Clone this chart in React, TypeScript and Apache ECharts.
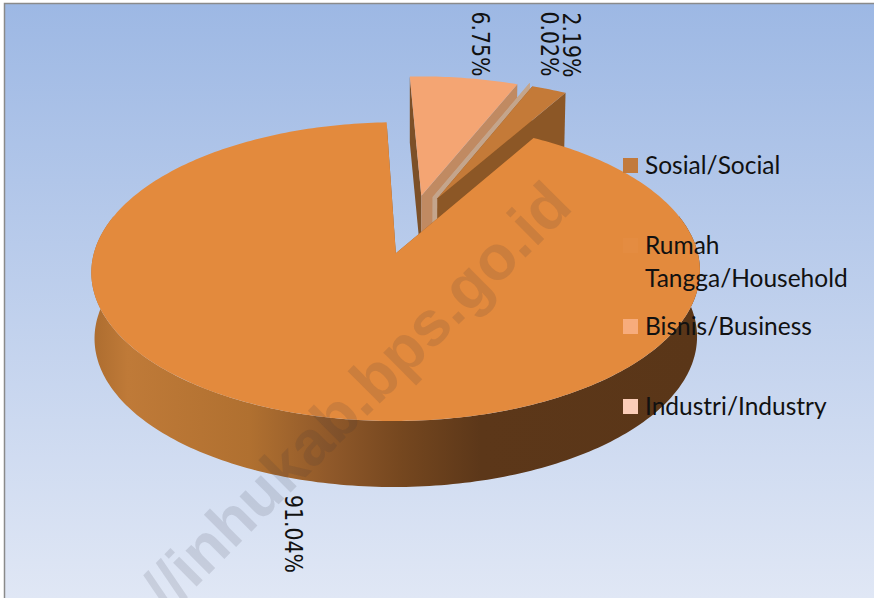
import React, { useEffect, useRef } from "react";
import * as echarts from "echarts";

const categories = ["Sosial/Social", "Rumah\nTangga/Household", "Bisnis/Business", "Industri/Industry"];
const shares = [2.19, 91.04, 6.75, 0.02];
const topColors = ["#C47A38", "#E38A3D", "#F4A573", "#F8CBB0"];
const legendColors = ["#C27A3C", "#E48C41", "#F7AC7C", "#FBCDB8"];
const startWallColors = ["#8F5A28", "#8F5A28", "#7C5028", "#C4A58C"];
const endWallColors = ["#8C5726", "#8F5A28", "#C08A62", "#C4A58C"];
const drawOrder = [2, 3, 0, 1];
const labelAnchors = [[572, 45], [294, 534], [481, 44], [550, 44]];
const legendRows = [165, 245, 326, 406];

const START_ANGLE = 22.05;
const EXPLODE = 0.21;
const CX = 411, CY = 224, A = 294.6, B = 140, K = 0.12;
const DEPTH = 66, BOTTOM_SCALE = 0.99;

const rad = (d: number) => (d * Math.PI) / 180;
const project = (u: number, v: number, bottom: boolean) => {
  const w = 1 - K * v;
  const a = bottom ? A * BOTTOM_SCALE : A;
  return [CX + (a * u) / w, CY + (bottom ? DEPTH : 0) + (B * v) / w];
};
const total = shares.reduce((s, x) => s + x, 0);

function renderSlice(_: any, api: any) {
  const i = api.value(0) as number;
  const value = api.value(1) as number;
  const a0 = START_ANGLE + (shares.slice(0, i).reduce((s, x) => s + x, 0) / total) * 360;
  const a1 = a0 + (value / total) * 360;
  const mid = rad((a0 + a1) / 2);
  const ou = EXPLODE * Math.sin(mid), ov = -EXPLODE * Math.cos(mid);
  const rim = (deg: number, bottom: boolean) =>
    project(ou + Math.sin(rad(deg)), ov - Math.cos(rad(deg)), bottom);
  const apexT = project(ou, ov, false), apexB = project(ou, ov, true);

  const arcTop: number[][] = [apexT];
  const steps = Math.max(2, Math.ceil(a1 - a0));
  for (let s = 0; s <= steps; s++) arcTop.push(rim(a0 + ((a1 - a0) * s) / steps, false));

  const children: any[] = [];
  const wall = (deg: number, fill: string) => ({
    type: "polygon",
    shape: { points: [apexT, rim(deg, false), rim(deg, true), apexB] },
    style: { fill, stroke: value < 1 ? fill : "none", lineWidth: value < 1 ? 2 : 0 },
  });
  children.push(wall(a0, startWallColors[i]));
  children.push(wall(a1, endWallColors[i]));

  const from = Math.max(a0, 75), to = Math.min(a1, 285);
  if (to > from) {
    const pts: number[][] = [];
    for (let d = from; d <= to; d += 1) pts.push(rim(d, false));
    for (let d = to; d >= from; d -= 1) pts.push(rim(d, true));
    children.push({
      type: "polygon",
      shape: { points: pts },
      style: {
        fill: new echarts.graphic.LinearGradient(0, 0, 1, 0, [
          { offset: 0, color: "#AC6C2F" },
          { offset: 0.06, color: "#BF7A38" },
          { offset: 0.26, color: "#B07030" },
          { offset: 0.39, color: "#90592A" },
          { offset: 0.51, color: "#75471F" },
          { offset: 0.64, color: "#5C3719" },
          { offset: 1, color: "#5A3618" },
        ]),
      },
    });
  }
  if (value >= 1) {
    children.push({
      type: "polygon",
      shape: { points: arcTop },
      style: { fill: topColors[i] },
    });
  }
  return { type: "group", children };
}

export default function App() {
  const ref = useRef<HTMLDivElement>(null);
  useEffect(() => {
    const chart = echarts.init(ref.current!, null, { renderer: "svg" });
    const legendEls: any[] = [];
    categories.forEach((name, i) => {
      legendEls.push({
        type: "rect",
        shape: { x: 623, y: legendRows[i] - 7, width: 15, height: 15 },
        style: { fill: legendColors[i] },
        z: 20,
      });
      legendEls.push({
        type: "text",
        x: 645,
        y: legendRows[i] - 17,
        z: 20,
        style: {
          text: name,
          fill: "#111111",
          font: "24.5px Lato",
          lineHeight: 33,
          verticalAlign: "top",
        },
      });
    });
    const labelEls = shares.map((v, i) => ({
      type: "text",
      x: labelAnchors[i][0],
      y: labelAnchors[i][1],
      rotation: -Math.PI / 2,
      scaleY: 1.2,
      z: 20,
      style: {
        text: v.toFixed(2) + "%",
        fill: "#111111",
        font: "20.5px 'DejaVu Sans'",
        align: "center",
        verticalAlign: "middle",
      },
    }));
    chart.setOption({
      animation: false,
      graphic: [
        {
          type: "rect",
          z: -10,
          shape: { x: 5, y: 4, width: 869, height: 594 },
          style: {
            fill: new echarts.graphic.LinearGradient(0, 0, 0, 1, [
              { offset: 0, color: "#9DB8E4" },
              { offset: 1, color: "#E0E7F5" },
            ]),
          },
        },
        {
          type: "polyline",
          z: -9,
          shape: { points: [[4.5, 598], [4.5, 3.5], [874, 3.5]] },
          style: { fill: "none", stroke: "#8A8A8A", lineWidth: 1.5 },
        },
        {
          type: "text",
          x: 559,
          y: 193,
          rotation: rad(45),
          z: 15,
          style: {
            text: "//inhukab.bps.go.id",
            fill: "rgba(50,50,60,0.13)",
            font: "bold 63px 'Liberation Sans'",
            align: "right",
            verticalAlign: "middle",
          },
        },
        ...labelEls,
        ...legendEls,
      ],
      series: [
        {
          type: "custom",
          coordinateSystem: "none",
          renderItem: renderSlice,
          data: drawOrder.map((i) => ({ name: categories[i], value: [i, shares[i]] })),
          silent: true,
          z: 5,
        },
      ],
    });
    return () => chart.dispose();
  }, []);
  return <div ref={ref} style={{ position: "absolute", left: 0, top: 0, width: 874, height: 598 }} />;
}
